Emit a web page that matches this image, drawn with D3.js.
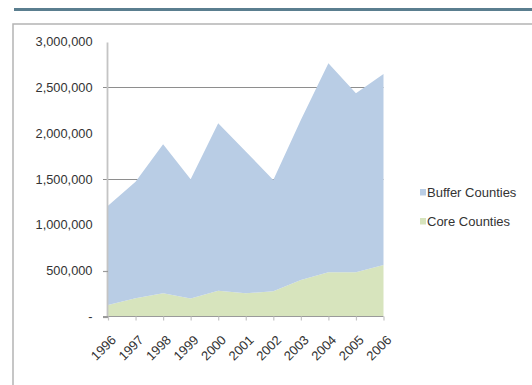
<!DOCTYPE html>
<html>
<head>
<meta charset="utf-8">
<script src="https://cdn.jsdelivr.net/npm/d3@7"></script>
<style>
  html, body { margin: 0; padding: 0; background: #fff; }
  svg { display: block; }
  text { font-family: "Liberation Sans", Arial, sans-serif; fill: #333; }
</style>
</head>
<body>
<svg id="chart" width="532" height="385"></svg>
<script>
// Population by year, stacked: core counties at the bottom, buffer counties on top
const years = ["1996", "1997", "1998", "1999", "2000", "2001", "2002", "2003", "2004", "2005", "2006"];
const coreCounties = [125000, 199000, 253000, 197000, 282000, 253000, 275000, 398000, 482000, 482000, 562000];
const bufferCounties = [1084000, 1271000, 1626000, 1300000, 1826000, 1547000, 1214000, 1746000, 2280000, 1953000, 2083000];
const yTickValues = [0, 500000, 1000000, 1500000, 2000000, 2500000, 3000000];
const gridValues = [1500000, 2500000];
const tickMarkValues = [0, 500000];
const seriesNames = ["Buffer Counties", "Core Counties"];

const svg = d3.select("#chart");

// header rule and chart frame
svg.append("rect").attr("x", 14).attr("y", 8).attr("width", 518).attr("height", 3).attr("fill", "#5a7e8f");
svg.append("rect").attr("x", 13).attr("y", 24).attr("width", 540).attr("height", 400)
  .attr("fill", "#fff").attr("stroke", "#b4b4b4").attr("stroke-width", 1.5);

const x = d3.scalePoint().domain(years).range([108, 383.5]);
const y = d3.scaleLinear().domain([0, 3000000]).range([316.5, 41.5]);

// gridlines (behind the areas)
svg.append("g").selectAll("line").data(gridValues).join("line")
  .attr("x1", 103).attr("x2", 383.5)
  .attr("y1", d => Math.round(y(d)) + 0.5).attr("y2", d => Math.round(y(d)) + 0.5)
  .attr("stroke", "#8e8e8e").attr("stroke-width", 1.2);

const rows = years.map((yr, i) => ({ year: yr, core: coreCounties[i], buffer: bufferCounties[i] }));
const stack = d3.stack().keys(["core", "buffer"]);
const layers = stack(rows);
const colors = { core: "#d7e4bd", buffer: "#b9cde5" };

const area = d3.area()
  .x(d => x(d.data.year))
  .y0(d => y(d[0]))
  .y1(d => y(d[1]));

svg.append("g").selectAll("path").data(layers).join("path")
  .attr("d", area)
  .attr("fill", d => colors[d.key]);

// y axis
const yAxis = d3.axisLeft(y).tickValues(yTickValues)
  .tickFormat(d => d === 0 ? "-" : d3.format(",")(d))
  .tickSize(0).tickPadding(15);
const gy = svg.append("g").attr("transform", "translate(107.5,0)").call(yAxis);
gy.select(".domain").attr("stroke", "#c4c4c4").attr("stroke-width", 1.8)
  .attr("d", `M0,${y(3000000) + 1}V${y(0)}`);
gy.selectAll("text").attr("font-size", 12.8).attr("fill", "#2e2e2e")
  .attr("font-family", "'Liberation Sans', Arial, sans-serif");
svg.append("g").selectAll("line").data(tickMarkValues).join("line")
  .attr("x1", 103).attr("x2", 108)
  .attr("y1", d => Math.round(y(d)) + 0.5).attr("y2", d => Math.round(y(d)) + 0.5)
  .attr("stroke", "#9a9a9a").attr("stroke-width", 1.2);

// x axis
const xAxis = d3.axisBottom(x).tickSize(4).tickSizeOuter(0).tickPadding(6);
const gx = svg.append("g").attr("transform", "translate(0,316.5)").call(xAxis);
gx.select(".domain").attr("stroke", "#9a9a9a").attr("stroke-width", 1.2)
  .attr("d", `M103,0H383.5`);
gx.selectAll(".tick line").attr("stroke", "#c4c4c4").attr("stroke-width", 1.2);
gx.selectAll("text")
  .attr("font-size", 13).attr("fill", "#2e2e2e")
  .attr("font-family", "'Liberation Sans', Arial, sans-serif")
  .attr("text-anchor", "end")
  .attr("dy", "0.35em")
  .attr("transform", "translate(-2,14) rotate(-45)");

// legend
const legend = svg.append("g").selectAll("g").data(seriesNames).join("g")
  .attr("transform", (d, i) => `translate(420,${189 + i * 29})`);
legend.append("rect").attr("width", 6).attr("height", 6.5)
  .attr("fill", (d, i) => i === 0 ? colors.buffer : colors.core);
legend.append("text").attr("x", 7).attr("y", 3).attr("dy", "0.35em")
  .attr("font-size", 13).attr("fill", "#2e2e2e").text(d => d);
</script>
</body>
</html>
